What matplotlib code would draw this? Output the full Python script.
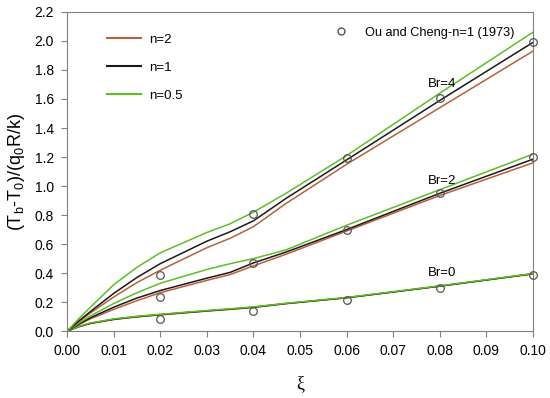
import numpy as np
import matplotlib.pyplot as plt
from matplotlib.lines import Line2D

plt.rcParams['font.family'] = ['Liberation Sans', 'DejaVu Sans']

# dimensionless axial position
xi = [0.0, 0.0025, 0.005, 0.01, 0.015, 0.02, 0.03, 0.035, 0.04, 0.047, 0.06, 0.08, 0.10]

# Br = 0 (all three n practically overlap)
br0_n2 = [0.0, 0.030, 0.052, 0.080, 0.098, 0.112, 0.138, 0.150, 0.163, 0.190, 0.230, 0.310, 0.395]
br0_n1 = [0.0, 0.031, 0.054, 0.082, 0.100, 0.114, 0.140, 0.152, 0.165, 0.190, 0.230, 0.310, 0.395]
br0_n05 = [0.0, 0.032, 0.056, 0.084, 0.102, 0.116, 0.142, 0.154, 0.167, 0.192, 0.232, 0.312, 0.397]

# Br = 2
br2_n2 = [0.0, 0.045, 0.085, 0.150, 0.210, 0.265, 0.350, 0.390, 0.450, 0.530, 0.690, 0.935, 1.160]
br2_n1 = [0.0, 0.048, 0.092, 0.165, 0.228, 0.280, 0.365, 0.405, 0.470, 0.545, 0.700, 0.950, 1.185]
br2_n05 = [0.0, 0.055, 0.105, 0.190, 0.265, 0.330, 0.425, 0.465, 0.500, 0.560, 0.730, 0.975, 1.220]

# Br = 4
br4_n2 = [0.0, 0.065, 0.125, 0.235, 0.335, 0.420, 0.575, 0.640, 0.720, 0.880, 1.150, 1.540, 1.930]
br4_n1 = [0.0, 0.070, 0.135, 0.260, 0.370, 0.465, 0.620, 0.685, 0.760, 0.915, 1.180, 1.590, 1.990]
br4_n05 = [0.0, 0.085, 0.165, 0.320, 0.440, 0.540, 0.680, 0.740, 0.820, 0.950, 1.210, 1.640, 2.060]

# Ou and Cheng (1973), n=1
xi_ref = [0.02, 0.04, 0.06, 0.08, 0.10]
ref_br0 = [0.083, 0.140, 0.215, 0.300, 0.390]
ref_br2 = [0.235, 0.470, 0.700, 0.955, 1.200]
ref_br4 = [0.386, 0.810, 1.190, 1.610, 1.990]

c_n2 = '#b8603a'
c_n1 = '#1a1a1a'
c_n05 = '#5cbf26'

fig = plt.figure(figsize=(5.5, 3.98), dpi=100)
ax = fig.add_axes([0.122, 0.168, 0.847, 0.802])

for y2, y1, y05 in [(br0_n2, br0_n1, br0_n05), (br2_n2, br2_n1, br2_n05), (br4_n2, br4_n1, br4_n05)]:
    ax.plot(xi, y2, color=c_n2, lw=1.1)
    ax.plot(xi, y1, color=c_n1, lw=1.1)
    ax.plot(xi, y05, color=c_n05, lw=1.1)

for yr in [ref_br0, ref_br2, ref_br4]:
    ax.plot(xi_ref, yr, 'o', mfc='none', mec='#555555', ms=5.5, mew=0.9, clip_on=False, zorder=5)

ax.text(0.0805, 1.66, 'Br=4', ha='center', va='bottom', fontsize=9.5)
ax.text(0.0805, 0.99, 'Br=2', ha='center', va='bottom', fontsize=9.5)
ax.text(0.0805, 0.36, 'Br=0', ha='center', va='bottom', fontsize=9.5)

ax.set_xlim(0, 0.10)
ax.set_ylim(0, 2.2)
ax.set_xticks(np.arange(0, 0.1001, 0.01))
ax.set_xticklabels([f'{v:.2f}' for v in np.arange(0, 0.1001, 0.01)])
ax.set_yticks(np.arange(0, 2.21, 0.2))
ax.set_yticklabels([f'{v:.1f}' for v in np.arange(0, 2.21, 0.2)])
ax.tick_params(direction='out', length=4.5, labelsize=10, color='#808080', pad=5)
for s in ax.spines.values():
    s.set_color('#808080')

ax.set_xlabel('ξ', fontsize=13, family='Liberation Serif', labelpad=12)
ax.set_ylabel('(T$_\\mathregular{b}$-T$_\\mathregular{0}$)/(q$_\\mathregular{0}$R/k)', fontsize=13, labelpad=5)

h1 = [Line2D([], [], color=c_n2, lw=1.5), Line2D([], [], color=c_n1, lw=1.5),
      Line2D([], [], color=c_n05, lw=1.5)]
leg1 = ax.legend(h1, ['n=2', 'n=1', 'n=0.5'], loc='upper left', bbox_to_anchor=(0.06, 0.97),
                 frameon=False, fontsize=9.5, handlelength=2.6, handletextpad=0.6, labelspacing=1.2)
ax.add_artist(leg1)
h2 = [Line2D([], [], ls='none', marker='o', mfc='none', mec='#555555', ms=5)]
ax.legend(h2, ['Ou and Cheng-n=1 (1973)'], loc='upper right', bbox_to_anchor=(0.985, 0.99),
          frameon=False, fontsize=9.2, handletextpad=0.9)

fig.savefig('out.png', dpi=100)
